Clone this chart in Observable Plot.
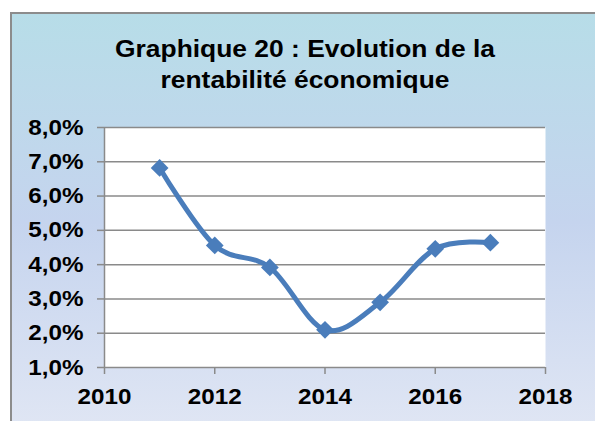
<!DOCTYPE html>
<html>
<head>
<meta charset="utf-8">
<script src="https://cdn.jsdelivr.net/npm/d3@7"></script>
<script src="https://cdn.jsdelivr.net/npm/@observablehq/plot@0.6"></script>
<style>
  html, body { margin: 0; padding: 0; background: #ffffff; overflow: hidden; }
  #wrap { position: relative; width: 595px; height: 421px; overflow: hidden; background: #ffffff; }
  #frame {
    position: absolute; left: 10px; top: 12px; width: 600px; height: 420px;
    box-sizing: border-box; border: 2px solid #8c8c8c;
    background: linear-gradient(to bottom, #b7dde8 0%, #c5d4ee 50%, #e0e6f4 100%);
  }
  #title {
    position: absolute; left: 9px; width: 592px; top: 33px;
    text-align: center; font-family: "Liberation Sans", Arial, sans-serif;
    font-weight: bold; font-size: 24px; line-height: 31px; color: #000;
    transform: scaleX(1.1); transform-origin: center center;
  }
  #chart { position: absolute; left: 0; top: 0; }
</style>
</head>
<body>
<div id="wrap">
  <div id="frame"></div>
  <div id="title">Graphique 20 : Evolution de la<br>rentabilité économique</div>
  <div id="chart"></div>
</div>
<script>
const years = [2011, 2012, 2013, 2014, 2015, 2016, 2017];
const rentabilite = [0.0682, 0.0456, 0.0392, 0.0210, 0.0290, 0.0446, 0.0464];
const xTicks = [2010, 2012, 2014, 2016, 2018];
const xTickLabels = ["2010", "2012", "2014", "2016", "2018"];
const yTicks = [0.01, 0.02, 0.03, 0.04, 0.05, 0.06, 0.07, 0.08];
const yTickLabels = ["1,0%", "2,0%", "3,0%", "4,0%", "5,0%", "6,0%", "7,0%", "8,0%"];

const data = years.map((year, i) => ({year, value: rentabilite[i]}));
const blue = "#4a7dbb";
const gray = "#8a8a8a";

const chart = Plot.plot({
  width: 595,
  height: 421,
  marginLeft: 104,
  marginRight: 50,
  marginTop: 127,
  marginBottom: 54,
  style: {
    background: "transparent",
    fontFamily: "'Liberation Sans', Arial, sans-serif",
    fontSize: "22px",
    fontWeight: "bold",
    color: "#000"
  },
  x: {domain: [2010, 2018], axis: null},
  y: {domain: [0.01, 0.08], axis: null},
  marks: [
    Plot.frame({fill: "white", stroke: "none"}),
    Plot.gridY(yTicks, {stroke: gray, strokeOpacity: 1, strokeWidth: 1.5}),
    Plot.ruleX([2010], {stroke: gray, strokeWidth: 1.5}),
    Plot.axisX(xTicks, {
      tickFormat: (d) => xTickLabels[xTicks.indexOf(d)],
      tickSize: 7, tickPadding: 14, stroke: gray, strokeWidth: 1.5,
      fill: "#000", fontSize: 22, fontWeight: "bold", label: null
    }),
    Plot.axisY(yTicks, {
      tickFormat: (d) => yTickLabels[yTicks.indexOf(d)],
      tickSize: 7, tickPadding: 14, stroke: gray, strokeWidth: 1.5,
      fill: "#000", fontSize: 22, fontWeight: "bold", label: null
    }),
    Plot.line(data, {x: "year", y: "value", curve: "cardinal", stroke: blue, strokeWidth: 5}),
    Plot.dot(data, {x: "year", y: "value", symbol: "diamond2", r: 8, fill: blue, stroke: "none"})
  ]
});
document.getElementById("chart").appendChild(chart);
// widen tick labels horizontally about their anchor point, like the reference's glyphs
chart.querySelectorAll("text").forEach((t) => {
  const b = t.getBBox();
  const anchor = getComputedStyle(t).textAnchor;
  const ax = anchor === "end" ? b.x + b.width : anchor === "middle" ? b.x + b.width / 2 : b.x;
  const tr = t.getAttribute("transform") || "";
  t.setAttribute("transform", `${tr} translate(${ax},0) scale(1.1,1) translate(${-ax},0)`.trim());
});
</script>
</body>
</html>
